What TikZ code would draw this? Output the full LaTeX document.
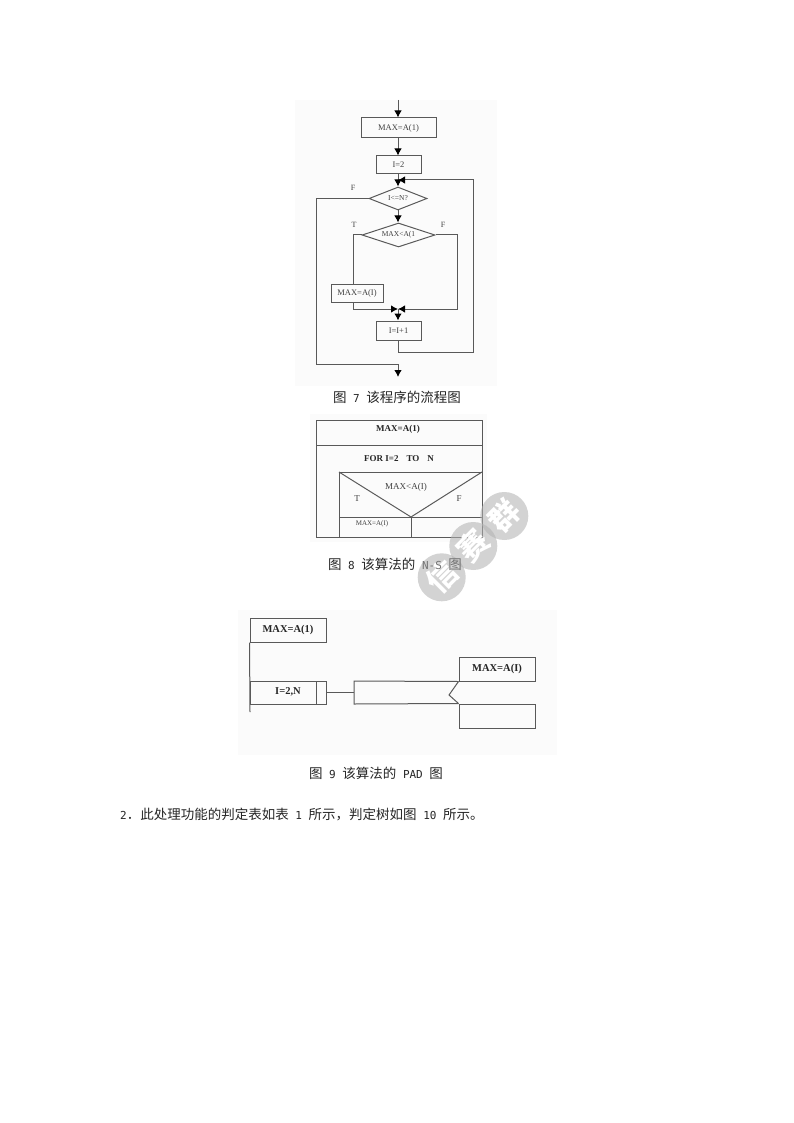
\documentclass[tikz,border=0pt]{standalone}
\usepackage{fontspec}
\setmainfont{Liberation Serif}
\newfontfamily\cjk{Noto Sans CJK SC}
\newfontfamily\lmono{DejaVu Sans Mono}
\newcommand{\lt}[1]{{\lmono\fontsize{11}{14}\selectfont #1}}
\usetikzlibrary{arrows.meta,shapes.geometric}
\definecolor{ln}{gray}{0.35}
\definecolor{wm}{gray}{0.7}
\definecolor{noise}{gray}{0.985}
\tikzset{
 x=1pt,y=-1pt,
 lin/.style={draw=ln,line width=1pt},
 arr/.style={lin,-{Latex[length=7pt,width=7.5pt,black]}},
 bx/.style={lin,rectangle,inner sep=0pt,anchor=center,font=\fontsize{8.5}{10}\selectfont,text=black!75},
 dia/.style={lin,diamond,aspect=2.5,inner sep=0pt,font=\fontsize{7.5}{9}\selectfont,text=black!75},
 lab/.style={font=\fontsize{8}{10}\selectfont,text=black!75,inner sep=0pt},
 bold/.style={font=\bfseries\fontsize{9}{11}\selectfont,inner sep=0pt,text=black!85},
 boldp/.style={font=\bfseries\fontsize{10.5}{12}\selectfont,inner sep=0pt,text=black!85},
 captext/.style={font=\cjk\fontsize{13.5}{16}\selectfont,inner sep=0pt,text=black!85},
 wmt/.style={font=\cjk\bfseries\fontsize{30}{30}\selectfont,text=white,inner sep=0pt,rotate=45}
}
\begin{document}
\begin{tikzpicture}
\useasboundingbox (0,0) rectangle (794,1123);
\fill[white] (0,0) rectangle (794,1123);
% faint image backgrounds
\fill[noise] (295,100) rectangle (497,386);
\fill[noise] (310,414) rectangle (487,542);
\fill[noise] (238,610) rectangle (557,755);
% flowchart
\coordinate (top) at (398,100);
\node[bx,minimum width=75pt,minimum height=20pt] (a) at (398.5,128) {MAX=A(1)};
\node[bx,minimum width=45pt,minimum height=18pt] (b) at (398.5,165) {I=2};
\node[dia,minimum width=58pt,minimum height=23pt] (c) at (398,198.5) {I<=N?};
\node[dia,minimum width=73pt,minimum height=24pt] (d) at (398.5,235) {MAX<A(1};
\node[bx,minimum width=52pt,minimum height=18pt] (e) at (357,293) {MAX=A(I)};
\node[bx,minimum width=45pt,minimum height=19pt] (f) at (398.5,330.5) {I=I+1};
\coordinate (j1) at (398,180);
\coordinate (j2) at (398,309);
\coordinate (endp) at (398,377);
\draw[arr] (top) -- (a.north -| top);
\draw[arr] (a.south -| top) -- (b.north -| top);
\draw[arr] (b.south -| top) -- (c.north);
\draw[arr] (c.south) -- (d.north -| c.south);
\draw[lin] (d.west) -- (353,235) -- (e.north -| 353,0);
\draw[arr] (e.south -| 353,0) -- (353,309) -- (j2);
\draw[arr] (d.east) -- (457,235) -- (457,309) -- (j2);
\draw[arr] (j2) -- (f.north -| j2);
\draw[arr] (f.south -| j2) -- (398,352) -- (473,352) -- (473,180) -- (j1);
\draw[lin] (c.west) -- (316,198.5) -- (316,364) -- (398,364);
\draw[arr] (398,364) -- (endp);
\node[lab] (lf1) at (353,188) {F};
\node[lab] (lt) at (354,225) {T};
\node[lab] (lf2) at (443,225) {F};
\node[captext] (c7) at (397,397) {图\lt{ 7 }该程序的流程图};
% N-S
\node[lin,rectangle,minimum width=166pt,minimum height=117pt,inner sep=0pt] (ns) at (399,478.5) {};
\draw[lin] (316,445) -- (482,445);
\draw[lin] (339,537) -- (339,472) -- (482,472);
\draw[lin] (339,517) -- (482,517);
\draw[lin] (411,517) -- (411,537);
\draw[lin] (339,472) -- (411,517) -- (482,472);
\node[bold] (n1) at (398,429) {MAX=A(1)};
\node[bold] (n2) at (399,459) {FOR I=2\hspace{8pt}TO\hspace{8pt}N};
\node[lab,font=\fontsize{9}{10}\selectfont] (n3) at (406,487) {MAX<A(I)};
\node[lab,font=\fontsize{9}{10}\selectfont] (n4) at (357,499) {T};
\node[lab,font=\fontsize{9}{10}\selectfont] (n5) at (459,499) {F};
\node[lab,font=\fontsize{7}{8}\selectfont] (n6) at (372,524) {MAX=A(I)};
% watermark
\fill[wm,opacity=0.57] (441.7,577.3) circle[radius=24];
\fill[wm,opacity=0.57] (473.3,546) circle[radius=24];
\fill[wm,opacity=0.57] (504.3,516) circle[radius=24];
\node[wmt] (w1) at (441.7,577.3) {信};
\node[wmt] (w2) at (473.3,546) {赛};
\node[wmt] (w3) at (504.3,516) {群};
\node[captext] (c8) at (395,564) {图\lt{ 8 }该算法的\textcolor{black!55}{\lt{ N-S }图}};
% PAD
\node[lin,rectangle,minimum width=76pt,minimum height=24pt,inner sep=0pt] (p1) at (288,630) {};
\node[boldp] (p1t) at (p1) {MAX=A(1)};
\node[lin,rectangle,minimum width=76pt,minimum height=23pt,inner sep=0pt] (p2) at (288,692.5) {};
\draw[lin] (316,681) -- (316,704);
\node[boldp] (p2t) at (288,692) {I=2,N};
\draw[lin] (p1.south west) -- (250,712);
\node[lin,rectangle,minimum width=76pt,minimum height=24pt,inner sep=0pt] (p3) at (497,669) {};
\node[boldp] (p3t) at (p3) {MAX=A(I)};
\node[lin,rectangle,minimum width=76pt,minimum height=24pt,inner sep=0pt] (p4) at (497,716) {};
\coordinate (q) at (354,692.5);
\draw[lin] (p2.east) -- (q);
\draw[lin] (p3.south west) -- (354,681) -- (354,704) -- (p4.north west);
\draw[lin] (p3.south west) -- (449,695) -- (p4.north west);
\node[captext] (c9) at (376,773) {图\lt{ 9 }该算法的\lt{ PAD }图};
\node[captext,anchor=west] (body) at (120,814) {\lt{2}．此处理功能的判定表如表\lt{ 1 }所示，判定树如图\lt{ 10 }所示。};
\end{tikzpicture}
\end{document}
